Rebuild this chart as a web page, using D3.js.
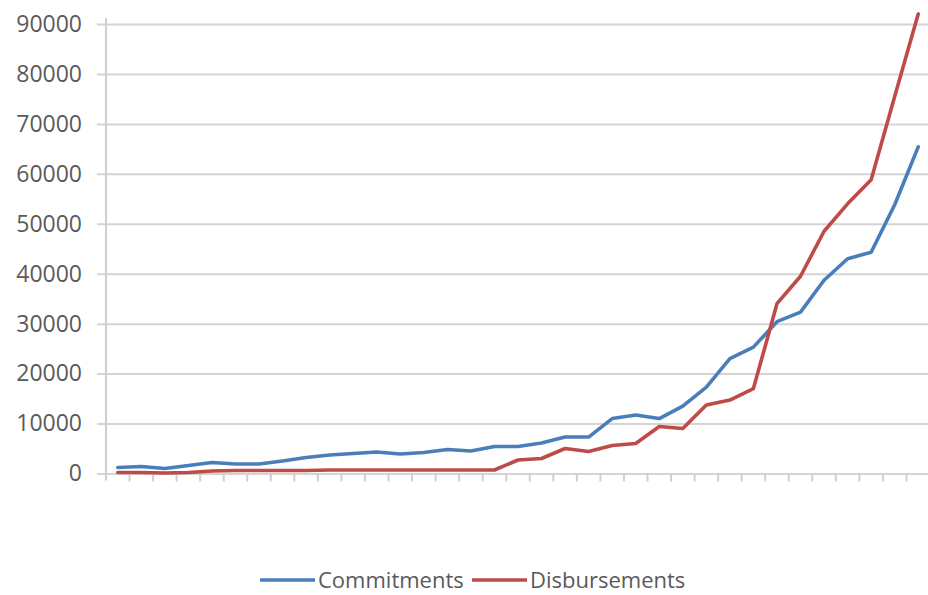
<!DOCTYPE html>
<html>
<head>
<meta charset="utf-8">
<script src="https://cdn.jsdelivr.net/npm/d3@7"></script>
<style>
  html, body { margin: 0; padding: 0; background: #fff; }
  svg { display: block; }
</style>
</head>
<body>
<svg id="chart" width="928" height="595"></svg>
<script>
// Periods along the horizontal axis (unlabelled on the chart)
const periods = d3.range(1, 36);

// Commitments per period
const commitments = [
  1200, 1400, 1000, 1600, 2200, 1900, 1900, 2500, 3200, 3700,
  4000, 4300, 3900, 4200, 4800, 4500, 5400, 5400, 6100, 7300,
  7300, 11000, 11700, 11000, 13500, 17300, 23000, 25300, 30400, 32300,
  38700, 43000, 44300, 53800, 65400
];

// Disbursements per period
const disbursements = [
  200, 200, 100, 200, 500, 600, 600, 600, 600, 700,
  700, 700, 700, 700, 700, 700, 700, 2700, 3000, 5000,
  4400, 5600, 6000, 9400, 9000, 13700, 14700, 17000, 34000, 39500,
  48500, 54000, 58800, 75500, 92000
];

const yTicks = [0, 10000, 20000, 30000, 40000, 50000, 60000, 70000, 80000, 90000];

const seriesNames = ["Commitments", "Disbursements"];
const seriesColors = ["#4a7ebb", "#be4b48"];

const svg = d3.select("#chart");
const plot = { left: 106, right: 930, top: 24, bottom: 473.5 };

const x = d3.scaleBand()
  .domain(periods)
  .range([plot.left, plot.right]);

const y = d3.scaleLinear()
  .domain([0, 90000])
  .range([plot.bottom, plot.top]);

// Horizontal gridlines with the value axis
const yAxis = d3.axisLeft(y)
  .tickValues(yTicks)
  .tickSize(-(plot.right - plot.left))
  .tickPadding(24)
  .tickFormat(d3.format("d"));

const gy = svg.append("g")
  .attr("transform", `translate(${plot.left},0)`)
  .call(yAxis);
gy.select(".domain").remove();
gy.selectAll(".tick line")
  .attr("x1", -9)
  .attr("stroke", "#d4d4d4")
  .attr("stroke-width", 2);
gy.selectAll(".tick text")
  .attr("fill", "#5a5a5a")
  .style("font-family", "'Open Sans', sans-serif")
  .style("font-size", "23px");

// Vertical axis line
svg.append("line")
  .attr("x1", plot.left).attr("x2", plot.left)
  .attr("y1", plot.top - 6).attr("y2", plot.bottom + 7)
  .attr("stroke", "#cfcfcf")
  .attr("stroke-width", 2);

// Category axis: tick marks between periods, no labels
const xAxis = d3.axisBottom(x)
  .tickSize(8)
  .tickFormat("");
const gx = svg.append("g")
  .attr("transform", `translate(0,${plot.bottom})`)
  .call(xAxis);
gx.select(".domain").remove();
gx.selectAll(".tick")
  .attr("transform", d => `translate(${x(d) + x.bandwidth()},0)`);
gx.selectAll(".tick line")
  .attr("stroke", "#cfcfcf")
  .attr("stroke-width", 2);

// Series lines
const line = d3.line()
  .x((d, i) => x(periods[i]) + x.bandwidth() / 2)
  .y(d => y(d));

[commitments, disbursements].forEach((values, k) => {
  svg.append("path")
    .datum(values)
    .attr("fill", "none")
    .attr("stroke", seriesColors[k])
    .attr("stroke-width", 3.6)
    .attr("stroke-linejoin", "round")
    .attr("stroke-linecap", "round")
    .attr("d", line);
});

// Legend
const legend = svg.append("g")
  .style("font-family", "'Open Sans', sans-serif")
  .style("font-size", "22px");
const legendItems = [
  { name: seriesNames[0], color: seriesColors[0], x0: 260 },
  { name: seriesNames[1], color: seriesColors[1], x0: 472 }
];
const legendY = 580;
legendItems.forEach(item => {
  legend.append("line")
    .attr("x1", item.x0).attr("x2", item.x0 + 55)
    .attr("y1", legendY).attr("y2", legendY)
    .attr("stroke", item.color)
    .attr("stroke-width", 3.6);
  legend.append("text")
    .attr("x", item.x0 + 58)
    .attr("y", legendY)
    .attr("dy", "0.35em")
    .attr("fill", "#5a5a5a")
    .text(item.name);
});
</script>
</body>
</html>
